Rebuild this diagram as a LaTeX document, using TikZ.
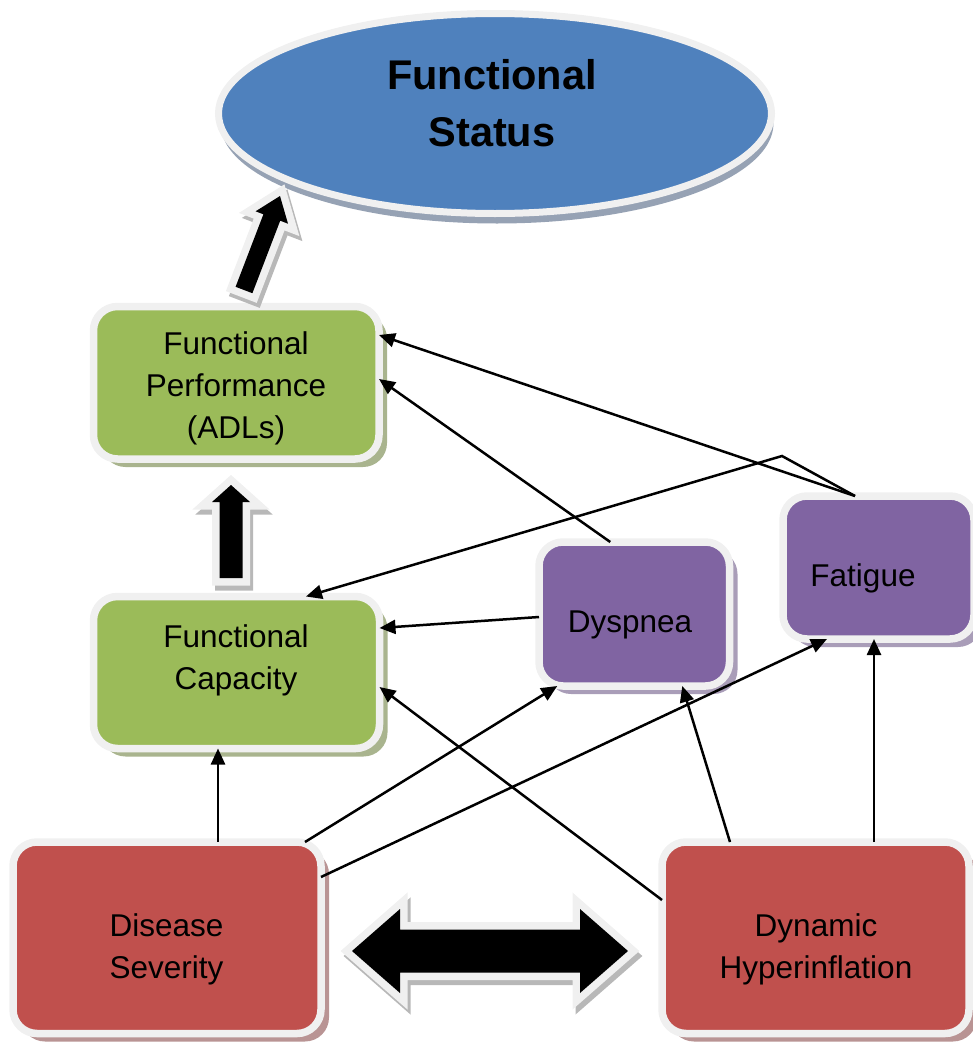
\documentclass[tikz,border=0pt]{standalone}
\usepackage{fontspec}
\setmainfont{Liberation Sans}
\usetikzlibrary{arrows.meta,shapes.geometric,shadows}
\definecolor{rim}{HTML}{F0F0F0}
\definecolor{fsblue}{HTML}{4F81BD}
\definecolor{fsgreen}{HTML}{9BBB59}
\definecolor{fspurple}{HTML}{8064A2}
\definecolor{fsred}{HTML}{C0504D}
\definecolor{shblue}{HTML}{96A2B4}
\definecolor{shgreen}{HTML}{A9B48E}
\definecolor{shpurple}{HTML}{A99DB8}
\definecolor{shred}{HTML}{B99494}
\definecolor{shgray}{HTML}{B8B8B8}
\begin{document}
\begin{tikzpicture}[x=1pt,y=-1pt,
  box/.style={rectangle, rounded corners=24pt, draw=rim, line width=7.5pt,
    inner sep=0pt, outer sep=0pt},
  greenbox/.style={box, fill=fsgreen,
    drop shadow={shadow xshift=8pt, shadow yshift=-8pt, fill=shgreen, opacity=1}},
  purplebox/.style={box, fill=fspurple,
    drop shadow={shadow xshift=8pt, shadow yshift=-8pt, fill=shpurple, opacity=1}},
  redbox/.style={box, fill=fsred,
    drop shadow={shadow xshift=8pt, shadow yshift=-8pt, fill=shred, opacity=1}},
  lbl/.style={align=center, inner sep=0pt, font=\fontsize{31.5}{42}\selectfont},
  conn/.style={line width=2.5pt, -{Triangle[length=16pt,width=14pt]}},
  blockshade/.style={draw=shgray, fill=shgray, line width=15pt, line join=miter},
  blockarrow/.style={fill=black, line join=miter,
    preaction={draw=rim, line width=15pt, line join=miter}}]

\useasboundingbox (0,0) rectangle (973,1044);

% outcome ellipse
\node[ellipse, draw=rim, line width=7pt, fill=fsblue, inner sep=0pt, outer sep=0pt,
  minimum width=553pt, minimum height=200pt,
  drop shadow={shadow xshift=2pt, shadow yshift=-10pt, fill=shblue, opacity=1}]
  (fs) at (495,113.5) {};
\node[align=center, inner sep=0pt, font=\bfseries\fontsize{41.5}{57}\selectfont]
  (fs-t) at (492,103.5) {Functional\\Status};

% boxes
\node[greenbox, minimum width=285.5pt, minimum height=152.5pt] (fp) at (236.25,382.75) {};
\node[greenbox, minimum width=286pt, minimum height=152pt] (fc) at (236.5,672.5) {};
\node[purplebox, minimum width=190.5pt, minimum height=144pt] (dys) at (634.25,614) {};
\node[purplebox, minimum width=191pt, minimum height=143pt] (fat) at (878.5,567.5) {};
\node[redbox, minimum width=308pt, minimum height=191.5pt] (ds) at (167,937.75) {};
\node[redbox, minimum width=307pt, minimum height=191.5pt] (dh) at (815.5,937.75) {};

% box labels
\node[lbl] (fp-t) at (236,388) {Functional\\Performance\\(ADLs)};
\node[lbl] (fc-t) at (236,660) {Functional\\Capacity};
\node[lbl] (dys-t) at (630,624.5) {Dyspnea};
\node[lbl] (fat-t) at (863,578.5) {Fatigue};
\node[lbl] (ds-t) at (166.5,949) {Disease\\Severity};
\node[lbl] (dh-t) at (816,949) {Dynamic\\Hyperinflation};

% block arrows: capacity -> performance -> status, severity <-> hyperinflation
\path[blockshade, shift={(3,5)}] (219.5,578) -- (219.5,502) -- (212,502) -- (231,485)
  -- (250,502) -- (242.5,502) -- (242.5,578) -- cycle;
\path[blockarrow] (219.5,578) -- (219.5,502) -- (212,502) -- (231,485)
  -- (250,502) -- (242.5,502) -- (242.5,578) -- cycle;

\path[blockshade, shift={(3,5)}] (235.6,286.8) -- (263.4,214.3) -- (255.6,211.3) -- (280,196)
  -- (288,223.7) -- (280.2,220.7) -- (252.4,293.2) -- cycle;
\path[blockarrow] (235.6,286.8) -- (263.4,214.3) -- (255.6,211.3) -- (280,196)
  -- (288,223.7) -- (280.2,220.7) -- (252.4,293.2) -- cycle;

\path[blockshade, shift={(3,5)}] (352,951) -- (400,909) -- (400,929.5) -- (580,929.5)
  -- (580,909) -- (628,951) -- (580,993) -- (580,972.5) -- (400,972.5) -- (400,993) -- cycle;
\path[blockarrow] (352,951) -- (400,909) -- (400,929.5) -- (580,929.5)
  -- (580,909) -- (628,951) -- (580,993) -- (580,972.5) -- (400,972.5) -- (400,993) -- cycle;

% connectors
\coordinate (bend) at (782,456);
\draw[conn] ([xshift=-23.5pt]fat.north) -- ([yshift=47.75pt]fp.east);
\draw[conn] ([xshift=-23.5pt]fat.north) -- (bend) -- ([xshift=69.5pt]fc.north);
\draw[conn] ([xshift=-24pt]dys.north) -- ([yshift=3.75pt]fp.east);
\draw[conn] ([yshift=-3pt]dys.west) -- ([yshift=44.5pt]fc.east);
\draw[conn] ([xshift=51pt]ds.north) -- ([xshift=-18.5pt]fc.south);
\draw[conn] ([xshift=138pt]ds.north) -- ([xshift=-77pt]dys.south);
\draw[conn] ([yshift=60.75pt]ds.east) -- ([xshift=-51.5pt]fat.south);
\draw[conn] ([yshift=37.75pt]dh.west) -- ([yshift=-14.5pt]fc.east);
\draw[conn] ([xshift=-85.5pt]dh.north) -- ([xshift=48pt]dys.south);
\draw[conn] ([xshift=58.5pt]dh.north) -- ([xshift=58.5pt]dh.north |- fat.south);
\end{tikzpicture}
\end{document}
